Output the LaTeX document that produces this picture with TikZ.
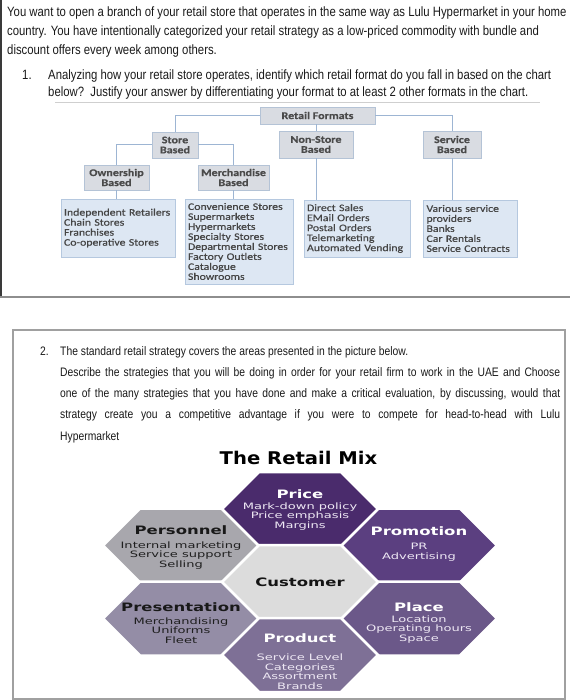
\documentclass[tikz,border=0pt]{standalone}
\usepackage{fontspec}
\setmainfont{Liberation Sans}[FakeStretch=0.84]
\newfontfamily\chartfont{Carlito}[FakeStretch=1.18,FakeBold=0.5]
\newfontfamily\hexfont{DejaVu Sans}[FakeStretch=1.48]
\newfontfamily\hextitlefont{DejaVu Sans}[FakeStretch=1.42]
\newfontfamily\mixfont{DejaVu Sans}[FakeStretch=1.12]
\definecolor{txtc}{HTML}{1A1A1A}
\definecolor{hdrfill}{HTML}{D9DCE2}
\definecolor{hdrline}{HTML}{B4C3D6}
\definecolor{lstfill}{HTML}{DDE7F3}
\definecolor{lstline}{HTML}{B5C8DF}
\definecolor{linkc}{HTML}{9DB5D3}
\definecolor{chtext}{HTML}{454545}
\definecolor{hdrtext}{HTML}{4A4A4A}
\definecolor{cPrice}{HTML}{4A2B6C}
\definecolor{cPromo}{HTML}{5B3F80}
\definecolor{cPlace}{HTML}{6B5889}
\definecolor{cProduct}{HTML}{7E7096}
\definecolor{cPresent}{HTML}{948DA6}
\definecolor{cPerson}{HTML}{A8A7AD}
\definecolor{cCust}{HTML}{DCDCDC}
\definecolor{lightbody}{HTML}{EEE8F4}
\definecolor{frameA}{HTML}{3A3A3A}
\definecolor{frameB}{HTML}{8E8E8E}
\definecolor{frameC}{HTML}{A0A0A0}
\definecolor{ruleC}{HTML}{CFCFCF}
\newcommand\hexagonat[3]{%
  \fill[#3,draw=white,line width=2.5pt,line join=miter]
    (#1-78,#2) -- (#1-41,#2-37) -- (#1+41,#2-37) -- (#1+78,#2)
    -- (#1+41,#2+37) -- (#1-41,#2+37) -- cycle;}
\begin{document}
\begin{tikzpicture}[x=1pt,y=-1pt,
  para/.style={anchor=base west,inner sep=0pt,text=txtc,font=\fontsize{13.5}{18.5}\selectfont},
  parb/.style={anchor=base west,inner sep=0pt,text=txtc,font=\fontsize{12.3}{18}\selectfont},
  hdr/.style={draw=hdrline,fill=hdrfill,line width=0.8pt,inner sep=0pt,align=center,
    text=hdrtext,font=\chartfont\bfseries\fontsize{10.2}{10}\selectfont},
  lst/.style={draw=lstline,fill=lstfill,line width=0.8pt,inner xsep=3pt,inner ysep=0pt,
    align=left,text=chtext,font=\chartfont\fontsize{10}{10}\selectfont},
  link/.style={draw=linkc,line width=1pt},
  htitle/.style={inner sep=0pt,font=\hextitlefont\bfseries\fontsize{11.6}{13}\selectfont},
  hbody/.style={inner sep=0pt,align=center,font=\hexfont\fontsize{8.8}{9.5}\selectfont}]
\useasboundingbox (0,0) rectangle (570,700);
\fill[white] (0,0) rectangle (570,700);
% ---- frame 1
\draw[frameA,line width=1.5pt] (0.75,0) -- (0.75,297);
\draw[frameB,line width=2pt] (0,297) -- (570,297);
% ---- text 1
\node[para] (l1) at (7,16.5) {You want to open a branch of your retail store that operates in the same way as Lulu Hypermarket in your home};
\node[para] (l2) at (7,35.5) {country. You have intentionally categorized your retail strategy as a low-priced commodity with bundle and};
\node[para] (l3) at (7,54.5) {discount offers every week among others.};
\node[para] (n1) at (22,79.5) {1.};
\node[para] (q1a) at (48,79.5) {Analyzing how your retail store operates, identify which retail format do you fall in based on the chart};
\node[para] (q1b) at (48,97) {below?\ \ Justify your answer by differentiating your format to at least 2 other formats in the chart.};
\draw[ruleC,line width=0.8pt] (55,102) -- (540,102);
% ---- chart
\node[hdr,minimum width=115pt,minimum height=17pt] (rf) at (317.5,115.5) {Retail Formats};
\node[hdr,minimum width=46pt,minimum height=26pt] (sb) at (175,145) {Store\\Based};
\node[hdr,minimum width=74pt,minimum height=27pt] (nsb) at (316,144.5) {Non-Store\\Based};
\node[hdr,minimum width=58pt,minimum height=27pt] (svb) at (452,144.5) {Service\\Based};
\node[hdr,minimum width=65pt,minimum height=25pt] (ob) at (116.5,177.5) {Ownership\\Based};
\node[hdr,minimum width=71pt,minimum height=25pt] (mb) at (233.5,177.5) {Merchandise\\Based};
\node[lst,minimum width=114pt,text width=108pt,minimum height=58pt] (ol) at (118,228)
  {Independent Retailers\\Chain Stores\\Franchises\\Co-operative Stores};
\node[lst,minimum width=108pt,text width=102pt,minimum height=85pt] (ml) at (239,241.5)
  {Convenience Stores\\Supermarkets\\Hypermarkets\\Specialty Stores\\Departmental Stores\\Factory Outlets\\Catalogue\\Showrooms};
\node[lst,minimum width=106pt,text width=100pt,minimum height=57pt] (nl) at (357,228.5)
  {Direct Sales\\EMail Orders\\Postal Orders\\Telemarketing\\Automated Vending};
\node[lst,minimum width=94pt,text width=87pt,inner xsep=3.5pt,minimum height=57pt] (sl) at (470,228.5)
  {Various service\\providers\\Banks\\Car Rentals\\Service Contracts};
\draw[link] (rf.west) -| (sb.north);
\draw[link] (rf.east) -| (svb.north);
\draw[link] (rf.south -| nsb.north) -- (nsb.north);
\draw[link] (sb.west) -| (ob.north);
\draw[link] (sb.east) -| (mb.north);
\draw[link] (ob.south) -- (ob.south |- ol.north);
\draw[link] (mb.south) -- (mb.south |- ml.north);
\draw[link] (nsb.south) -- (nsb.south |- nl.north);
\draw[link] (svb.south) -- (svb.south |- sl.north);
% ---- frame 2
\draw[frameC,line width=1.2pt] (13,330) rectangle (565,699);
\node[parb] (n2) at (40,355.5) {2.};
\node[parb] (t2a) at (60,355.5) {The standard retail strategy covers the areas presented in the picture below.};
\node[parb] (t2b) at (60,376.5) {\makebox[500pt][s]{Describe the strategies that you will be doing in order for your retail firm to work in the UAE and Choose}};
\node[parb] (t2c) at (60,397.5) {\makebox[500pt][s]{one of the many strategies that you have done and make a critical evaluation, by discussing, would that}};
\node[parb] (t2d) at (60,418.5) {\makebox[500pt][s]{strategy create you a competitive advantage if you were to compete for head-to-head with Lulu}};
\node[parb] (t2e) at (60,440) {Hypermarket};
% ---- retail mix
\node[inner sep=0pt,text=black,font=\mixfont\bfseries\fontsize{17.5}{20}\selectfont] (mix) at (298.5,458) {The Retail Mix};
\hexagonat{181}{545.5}{cPerson}
\hexagonat{181}{618.5}{cPresent}
\hexagonat{419}{545.5}{cPromo}
\hexagonat{419}{618.5}{cPlace}
\hexagonat{300}{509}{cPrice}
\hexagonat{300}{582}{cCust}
\hexagonat{300}{655}{cProduct}
\node[htitle,text=white] (pricet) at (300,494) {Price};
\node[hbody,text=lightbody] (priceb) at (300,516.5) {Mark-down policy\\Price emphasis\\Margins};
\node[htitle,text=black!90] (perst) at (181,530) {Personnel};
\node[hbody,text=black!88] (persb) at (181,555.5) {Internal marketing\\Service support\\Selling};
\node[htitle,text=white] (promt) at (419,531.5) {Promotion};
\node[hbody,text=lightbody] (promb) at (419,552) {PR\\Advertising};
\node[htitle,text=black!92] (custt) at (300,582) {Customer};
\node[htitle,text=black!90] (prest) at (181,607) {Presentation};
\node[hbody,text=black!88] (presb) at (181,630.5) {Merchandising\\Uniforms\\Fleet};
\node[htitle,text=white] (placet) at (419,607) {Place};
\node[hbody,text=lightbody] (placeb) at (419,629.5) {Location\\Operating hours\\Space};
\node[htitle,text=white] (prodt) at (300,638.5) {Product};
\node[hbody,text=lightbody] (prodb) at (300,671.5) {Service Level\\Categories\\Assortment\\Brands};
\end{tikzpicture}
\end{document}
